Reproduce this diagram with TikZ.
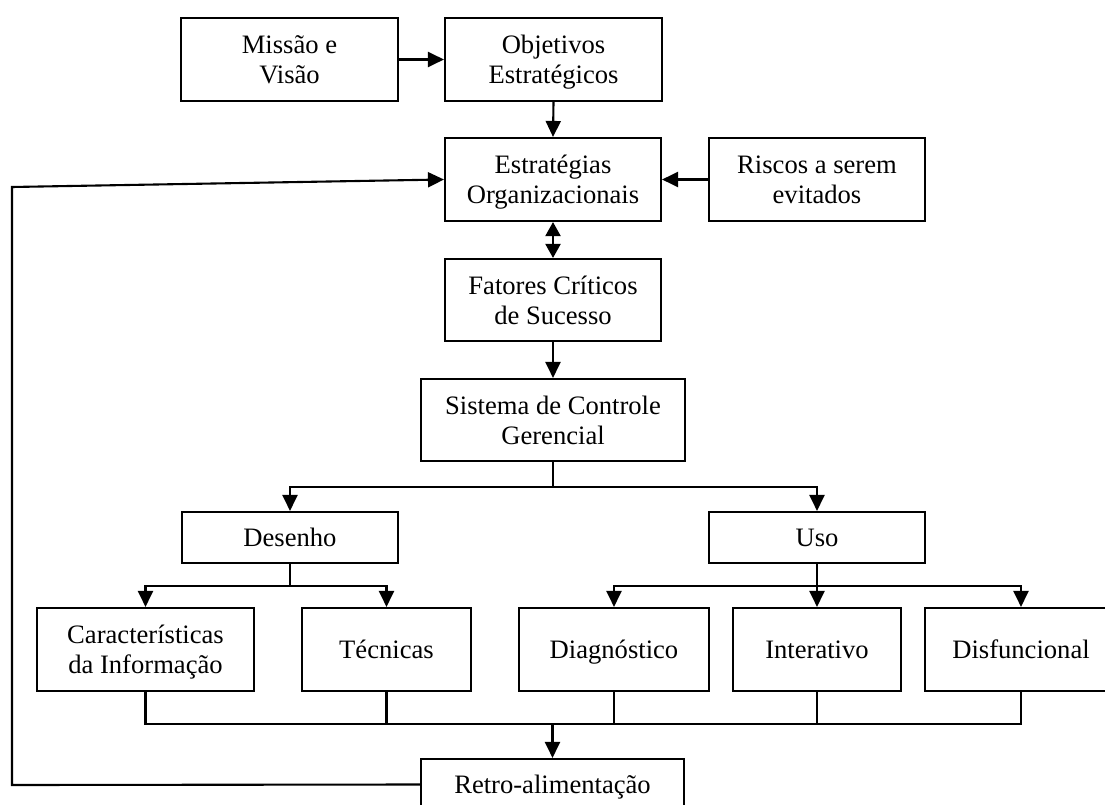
\documentclass[tikz,border=0pt]{standalone}
\usepackage{fontspec}
\setmainfont{Liberation Serif}
\usetikzlibrary{arrows.meta}
% uniform line height so every label sits at the same optical centre
\newcommand\linestrut{\rule[-6pt]{0pt}{30pt}}
\begin{document}
\begin{tikzpicture}[x=1pt,y=-1pt,
  box/.style={draw, line width=2.1pt, inner sep=0pt, align=center,
    font=\fontsize{26.6}{30}\selectfont},
  link/.style={line width=2.1pt},
  arr/.style={link, -{Triangle[length=16pt,width=15pt]}},
  darr/.style={link, {Triangle[length=14pt,width=15pt]}-{Triangle[length=14pt,width=15pt]}}]
\useasboundingbox (0,0) rectangle (1105,805);
\clip (0,0) rectangle (1105,805);

% top row
\node[box, minimum width=217pt, minimum height=83pt] (mv)  at (289.5,59.5) {\linestrut Missão e\\\linestrut Visão};
\node[box, minimum width=217pt, minimum height=83pt] (obj) at (553.5,59.5) {\linestrut Objetivos\\\linestrut Estratégicos};
% strategy level
\node[box, minimum width=216pt, minimum height=83pt] (est) at (553,179.5) {\linestrut Estratégias\\\linestrut Organizacionais};
\node[box, minimum width=216pt, minimum height=83pt] (ris) at (817,179.5) {\linestrut Riscos a serem\\\linestrut evitados};
\node[box, minimum width=216pt, minimum height=82pt] (fcs) at (553,300) {\linestrut Fatores Críticos\\\linestrut de Sucesso};
\node[box, minimum width=264pt, minimum height=82pt] (scg) at (553,420) {\linestrut Sistema de Controle\\\linestrut Gerencial};
% design / use
\node[box, minimum width=216pt, minimum height=51pt] (des) at (290,537.5) {\linestrut Desenho};
\node[box, minimum width=216pt, minimum height=51pt] (uso) at (817,537.5) {\linestrut Uso};
% leaves
\node[box, minimum width=217pt, minimum height=83pt] (car) at (145.5,649.5) {\linestrut Características\\\linestrut da Informação};
\node[box, minimum width=169pt, minimum height=83pt] (tec) at (386.5,649.5) {\linestrut Técnicas};
\node[box, minimum width=190pt, minimum height=83pt] (dia) at (614,649.5) {\linestrut Diagnóstico};
\node[box, minimum width=168pt, minimum height=83pt] (int) at (817,649.5) {\linestrut Interativo};
\node[box, minimum width=192pt, minimum height=83pt] (dis) at (1021,649.5) {\linestrut Disfuncional};
% feedback
\node[box, minimum width=263pt, minimum height=51pt] (ret) at (552.5,784.5) {\linestrut Retro-alimentação};

% junction points
\coordinate (jscg) at (553,487);
\coordinate (jdes) at (290,586);
\coordinate (juso) at (817,586);
\coordinate (jleft) at (145.5,724);
\coordinate (jright) at (1021,724);
\coordinate (jret) at (552.5,724);
\coordinate (fb1) at (12,785);
\coordinate (fb2) at (12,187);

\draw[arr] (mv.east) -- (obj.west);
\draw[arr] (obj.south) -- (est.north);
\draw[arr] (ris.west) -- (est.east);
\draw[darr] (est.south) -- (fcs.north);
\draw[arr] (fcs.south) -- (scg.north);

\draw[link] (scg.south) -- (jscg);
\draw[arr] (jscg) -| (des.north);
\draw[arr] (jscg) -| (uso.north);

\draw[link] (des.south) -- (jdes);
\draw[arr] (jdes) -| (car.north);
\draw[arr] (jdes) -| (tec.north);

\draw[arr] (uso.south) -- (int.north);
\draw[arr] (juso) -| (dia.north);
\draw[arr] (juso) -| (dis.north);

\draw[link] (car.south) -- (jleft) -- (jright) -- (dis.south);
\draw[link] (tec.south) -- (tec.south |- jleft);
\draw[link] (dia.south) -- (dia.south |- jleft);
\draw[link] (int.south) -- (int.south |- jleft);
\draw[arr] (jret) -- (ret.north);

\draw[arr] (ret.west) -- (fb1) -- (fb2) -- (est.west);
\end{tikzpicture}
\end{document}
